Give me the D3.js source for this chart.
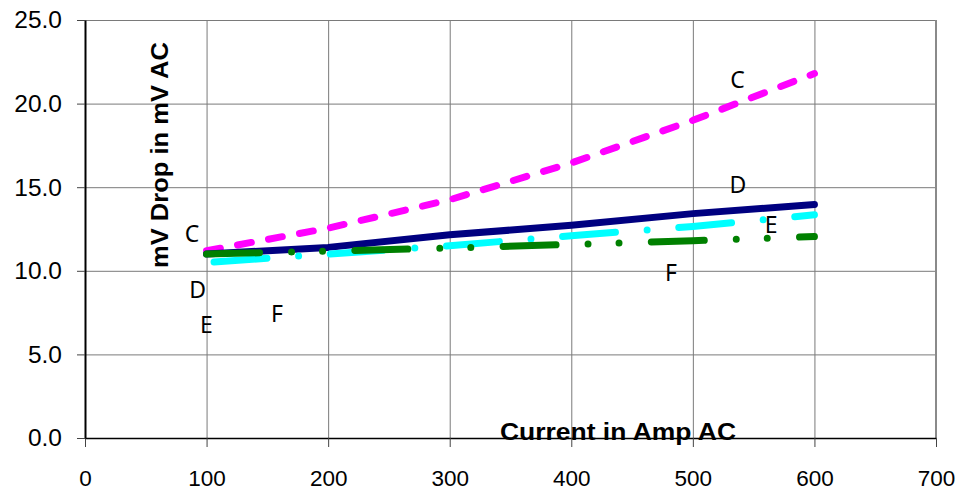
<!DOCTYPE html>
<html>
<head>
<meta charset="utf-8">
<script src="https://cdn.jsdelivr.net/npm/d3@7"></script>
<style>
  html, body { margin: 0; padding: 0; background: #fff; }
  svg { display: block; }
</style>
</head>
<body>
<svg id="chart" width="959" height="490"></svg>
<script>
// ---- data ----
const categories = [100, 200, 300, 400, 500, 600];
const seriesNames = ["C", "D", "E", "F"];
const seriesC = [11.2, 12.55, 14.25, 16.45, 19.0, 21.8];
const seriesD = [11.0, 11.4, 12.15, 12.72, 13.42, 13.96];
const seriesE = [10.5, 11.0, 11.5, 12.1, 12.65, 13.35];
const seriesF = [11.0, 11.18, 11.36, 11.58, 11.8, 12.05];
const xTickValues = [0, 100, 200, 300, 400, 500, 600, 700];
const yTickValues = [0, 5, 10, 15, 20, 25];
const xTitle = "Current in Amp AC";
const yTitle = "mV Drop in mV AC";
// series text annotations (data coordinates)
const annotationText = ["C", "D", "E", "F", "C", "D", "E", "F"];
const annotationX = [88.0, 92.7, 99.9, 157.9, 536.7, 537.1, 564.3, 482.0];
const annotationY = [12.24, 8.88, 6.79, 7.46, 21.41, 15.15, 12.74, 9.87];

// ---- layout ----
const svg = d3.select("#chart");
const mLeft = 85, mRight = 936, mTop = 20, mBottom = 438;

const x = d3.scaleLinear().domain([0, 700]).range([mLeft, mRight]);
const y = d3.scaleLinear().domain([0, 25]).range([mBottom, mTop]);

// gridlines
svg.append("g")
  .attr("transform", `translate(0,${mBottom})`)
  .call(d3.axisBottom(x).tickValues(xTickValues).tickSize(-(mBottom - mTop)).tickFormat(""))
  .call(g => g.select(".domain").remove())
  .call(g => g.selectAll("line").attr("stroke", "#7a7a7a").attr("stroke-width", 1));
svg.append("g")
  .attr("transform", `translate(${mLeft},0)`)
  .call(d3.axisLeft(y).tickValues(yTickValues).tickSize(-(mRight - mLeft)).tickFormat(""))
  .call(g => g.select(".domain").remove())
  .call(g => g.selectAll("line").attr("stroke", "#7a7a7a").attr("stroke-width", 1));

// right border
svg.append("line")
  .attr("x1", x(700)).attr("x2", x(700)).attr("y1", y(25)).attr("y2", y(0))
  .attr("stroke", "#8a8a8a").attr("stroke-width", 2);

// x axis
const xAxis = svg.append("g")
  .attr("transform", `translate(0,${mBottom})`)
  .call(d3.axisBottom(x).tickValues(xTickValues).tickSize(9).tickPadding(23).tickSizeOuter(0).tickFormat(d3.format("d")));
xAxis.select(".domain").attr("stroke", "#000").attr("stroke-width", 1.5);
xAxis.selectAll("line").attr("stroke", "#444");
xAxis.selectAll("text")
  .attr("font-family", "'Liberation Sans', Arial, sans-serif")
  .attr("font-size", 22.5).attr("fill", "#000");

// y axis
const yAxis = svg.append("g")
  .attr("transform", `translate(${mLeft},0)`)
  .call(d3.axisLeft(y).tickValues(yTickValues).tickSize(8).tickPadding(15).tickSizeOuter(0).tickFormat(d3.format(".1f")));
yAxis.select(".domain").attr("stroke", "#000").attr("stroke-width", 2);
yAxis.selectAll("line").attr("stroke", "#444");
yAxis.selectAll("text")
  .attr("font-family", "'Liberation Sans', Arial, sans-serif")
  .attr("font-size", 24.5).attr("fill", "#000");

// series
const seriesValues = [seriesC, seriesD, seriesE, seriesF];
const seriesColors = ["#ff00ff", "#000080", "#00ffff", "#008000"];
const seriesDash = ["14,17.5", null, "53,31.75,0,31.75", "53,32,0,31,0,32.3"];
const seriesOffset = [0, 0, 109, 0];

const line = d3.line()
  .x((d, i) => x(categories[i]))
  .y(d => y(d));

seriesValues.forEach((vals, k) => {
  const p = svg.append("path")
    .datum(vals)
    .attr("d", line)
    .attr("fill", "none")
    .attr("stroke", seriesColors[k])
    .attr("stroke-width", 7)
    .attr("stroke-linecap", "round")
    .attr("stroke-linejoin", "round");
  if (seriesDash[k]) p.attr("stroke-dasharray", seriesDash[k]).attr("stroke-dashoffset", seriesOffset[k]);
});

// series annotations
svg.append("g").selectAll("text")
  .data(annotationText)
  .join("text")
  .attr("x", (d, i) => x(annotationX[i]))
  .attr("y", (d, i) => y(annotationY[i]))
  .attr("dy", "0.36em")
  .attr("text-anchor", "middle")
  .attr("font-family", "'Noto Sans', 'Open Sans', sans-serif")
  .attr("font-size", 23)
  .attr("fill", "#000")
  .text(d => d);

// axis titles
svg.append("text")
  .attr("x", 618).attr("y", 440)
  .attr("text-anchor", "middle")
  .attr("font-family", "'Liberation Sans', Arial, sans-serif")
  .attr("font-weight", "bold")
  .attr("font-size", 24)
  .attr("textLength", 236).attr("lengthAdjust", "spacingAndGlyphs")
  .attr("fill", "#000")
  .text(xTitle);

svg.append("text")
  .attr("transform", "translate(168,155) rotate(-90)")
  .attr("text-anchor", "middle")
  .attr("font-family", "'Liberation Sans', Arial, sans-serif")
  .attr("font-weight", "bold")
  .attr("font-size", 24)
  .attr("textLength", 226).attr("lengthAdjust", "spacingAndGlyphs")
  .attr("fill", "#000")
  .text(yTitle);
</script>
</body>
</html>
